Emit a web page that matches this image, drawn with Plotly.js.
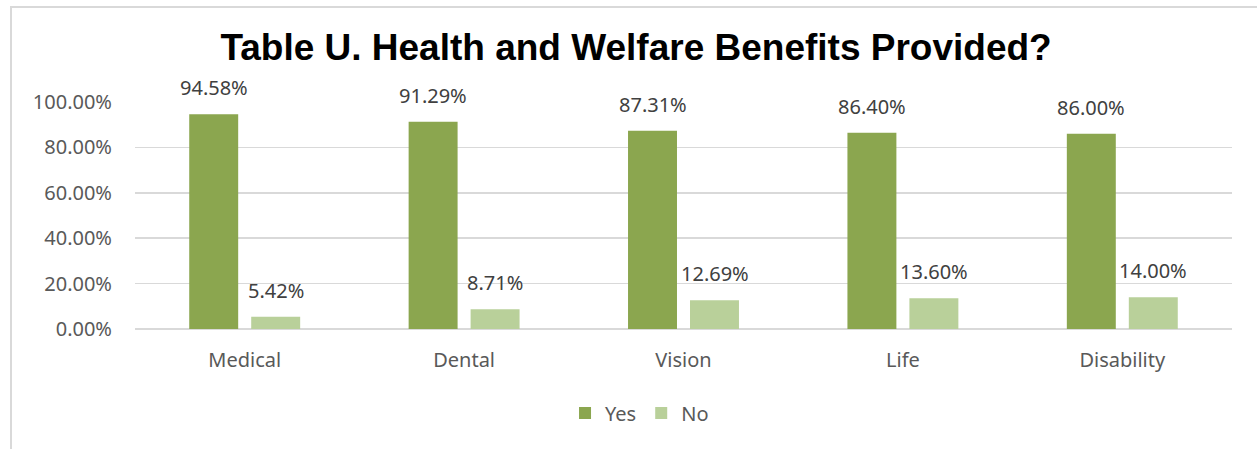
<!DOCTYPE html>
<html>
<head>
<meta charset="utf-8">
<script src="https://cdn.plot.ly/plotly-3.0.1.min.js"></script>
<style>
  html, body { margin: 0; padding: 0; background: #ffffff; }
  #wrap { position: relative; width: 1257px; height: 449px; overflow: hidden; }
  #chart { position: absolute; left: 0; top: 0; width: 1257px; height: 449px; }
  #frame { position: absolute; left: 10px; top: 6px; width: 1300px; height: 500px;
           border-left: 2px solid #d9d9d9; border-top: 2px solid #d9d9d9; pointer-events: none; }
</style>
</head>
<body>
<div id="wrap">
  <div id="chart"></div>
  <div id="frame"></div>
</div>
<script>
const categories = ["Medical", "Dental", "Vision", "Life", "Disability"];
const yesValues = [94.58, 91.29, 87.31, 86.40, 86.00];
const noValues = [5.42, 8.71, 12.69, 13.60, 14.00];
const seriesNames = ["Yes", "No"];
const yTickValues = [0, 20, 40, 60, 80, 100];
const yTickLabels = ["0.00%", "20.00%", "40.00%", "60.00%", "80.00%", "100.00%"];

const labelFont = { family: "Noto Sans, Open Sans, sans-serif", size: 20, color: "#404040" };
const tickFont = { family: "Noto Sans, Open Sans, sans-serif", size: 20, color: "#595959" };

const traces = [
  { type: "bar", name: seriesNames[0], x: categories, y: yesValues,
    marker: { color: "#8BA64F" }, hoverinfo: "none" },
  { type: "bar", name: seriesNames[1], x: categories, y: noValues,
    marker: { color: "#B9D09A" }, hoverinfo: "none" }
];

const annotations = [];
[yesValues, noValues].forEach((vals, si) => {
  vals.forEach((v, i) => {
    annotations.push({
      x: categories[i], y: v, xref: "x", yref: "y",
      text: v.toFixed(2) + "%", showarrow: false,
      xanchor: "center", yanchor: "bottom",
      xshift: si === 0 ? -31 : 31, yshift: 11,
      font: labelFont
    });
  });
});

const layout = {
  width: 1257, height: 449,
  margin: { l: 135, r: 25, t: 102, b: 120, pad: 0 },
  paper_bgcolor: "rgba(0,0,0,0)",
  plot_bgcolor: "rgba(0,0,0,0)",
  title: {
    text: "Table U. Health and Welfare Benefits Provided?",
    font: { family: "Liberation Sans, Arial, sans-serif", size: 37, color: "#000000", weight: "bold" },
    x: 0.506, xanchor: "center", xref: "container",
    y: 1 - 47 / 449, yanchor: "middle", yref: "container"
  },
  barmode: "group",
  bargap: 0.435,
  bargroupgap: 0.21,
  showlegend: true,
  legend: {
    orientation: "h", x: 0.392, xanchor: "left", y: -0.37, yanchor: "middle",
    font: tickFont, itemwidth: 30, bgcolor: "rgba(0,0,0,0)"
  },
  xaxis: {
    type: "category", showgrid: false, zeroline: false, showline: false,
    ticks: "", tickfont: tickFont, ticklabelstandoff: 17, fixedrange: true
  },
  yaxis: {
    range: [0, 100], tickmode: "array", tickvals: yTickValues, ticktext: yTickLabels,
    showgrid: true, gridcolor: "#d9d9d9", gridwidth: 1.5,
    zeroline: true, zerolinecolor: "#d9d9d9", zerolinewidth: 2,
    showline: false, ticks: "", tickfont: tickFont, ticklabelstandoff: 22, fixedrange: true
  },
  annotations: annotations
};

Plotly.newPlot("chart", traces, layout, { displayModeBar: false, staticPlot: true });
</script>
</body>
</html>
